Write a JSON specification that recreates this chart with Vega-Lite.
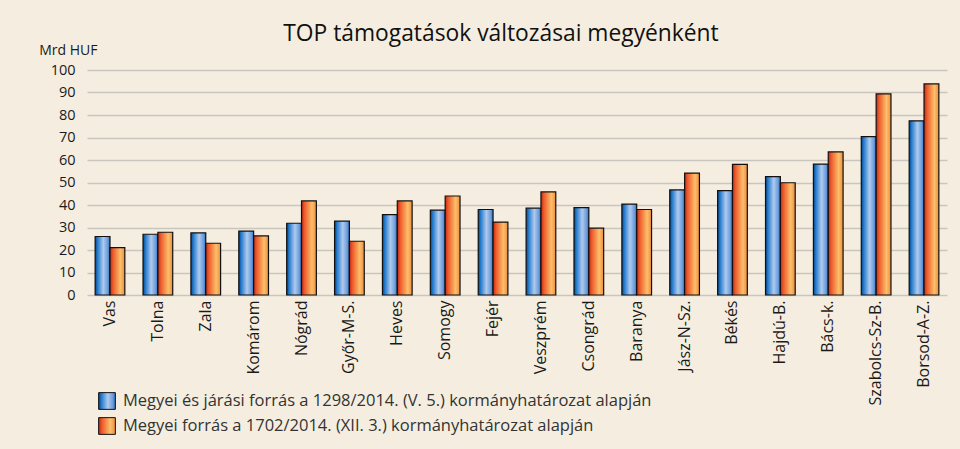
{
  "$schema": "https://vega.github.io/schema/vega-lite/v6.json",
  "width": 860,
  "height": 225,
  "autosize": {"type": "none"},
  "padding": {"left": 87, "top": 70, "right": 13, "bottom": 154},
  "background": "#f5eee0",
  "title": {
    "text": "TOP támogatások változásai megyénként",
    "fontSize": 22.8,
    "fontWeight": "normal",
    "font": "Open Sans",
    "color": "#111111",
    "anchor": "middle",
    "dx": -16,
    "offset": -3
  },
  "data": {
    "values": [
      {"megye": "Vas", "series": "A", "value": 26.0},
      {"megye": "Vas", "series": "B", "value": 21.1},
      {"megye": "Tolna", "series": "A", "value": 27.0},
      {"megye": "Tolna", "series": "B", "value": 27.9},
      {"megye": "Zala", "series": "A", "value": 27.6},
      {"megye": "Zala", "series": "B", "value": 23.0},
      {"megye": "Komárom", "series": "A", "value": 28.4},
      {"megye": "Komárom", "series": "B", "value": 26.3},
      {"megye": "Nógrád", "series": "A", "value": 31.9},
      {"megye": "Nógrád", "series": "B", "value": 41.8},
      {"megye": "Győr-M-S.", "series": "A", "value": 32.8},
      {"megye": "Győr-M-S.", "series": "B", "value": 23.9},
      {"megye": "Heves", "series": "A", "value": 35.7},
      {"megye": "Heves", "series": "B", "value": 41.8},
      {"megye": "Somogy", "series": "A", "value": 37.7},
      {"megye": "Somogy", "series": "B", "value": 44.0},
      {"megye": "Fejér", "series": "A", "value": 38.0},
      {"megye": "Fejér", "series": "B", "value": 32.4},
      {"megye": "Veszprém", "series": "A", "value": 38.6},
      {"megye": "Veszprém", "series": "B", "value": 45.8},
      {"megye": "Csongrád", "series": "A", "value": 38.8},
      {"megye": "Csongrád", "series": "B", "value": 29.7},
      {"megye": "Baranya", "series": "A", "value": 40.4},
      {"megye": "Baranya", "series": "B", "value": 38.0},
      {"megye": "Jász-N-Sz.", "series": "A", "value": 46.7},
      {"megye": "Jász-N-Sz.", "series": "B", "value": 54.2},
      {"megye": "Békés", "series": "A", "value": 46.4},
      {"megye": "Békés", "series": "B", "value": 58.1},
      {"megye": "Hajdú-B.", "series": "A", "value": 52.6},
      {"megye": "Hajdú-B.", "series": "B", "value": 49.9},
      {"megye": "Bács-k.", "series": "A", "value": 58.2},
      {"megye": "Bács-k.", "series": "B", "value": 63.6},
      {"megye": "Szabolcs-Sz-B.", "series": "A", "value": 70.4},
      {"megye": "Szabolcs-Sz-B.", "series": "B", "value": 89.4},
      {"megye": "Borsod-A-Z.", "series": "A", "value": 77.4},
      {"megye": "Borsod-A-Z.", "series": "B", "value": 93.8}
    ]
  },
  "mark": {
    "type": "bar",
    "strokeWidth": 1.2,
    "fill": {"expr": "(datum.series === 'A' || datum.value === 'A') ? {gradient: 'linear', x1: 0, y1: 0, x2: 1, y2: 0, stops: [{offset: 0, color: '#084485'}, {offset: 0.15, color: '#1f78cc'}, {offset: 0.55, color: '#b0caee'}, {offset: 0.85, color: '#6a9cdc'}, {offset: 1, color: '#2a6fc0'}]} : {gradient: 'linear', x1: 0, y1: 0, x2: 1, y2: 0, stops: [{offset: 0, color: '#c02a14'}, {offset: 0.2, color: '#ee5a2c'}, {offset: 0.7, color: '#fcbf6a'}, {offset: 1, color: '#ef8c3e'}]}"}
  },
  "encoding": {
    "x": {
      "field": "megye",
      "type": "nominal",
      "sort": null,
      "scale": {"paddingInner": 0.38, "paddingOuter": 0.17},
      "axis": {
        "title": null,
        "labelAngle": -90,
        "labelFontSize": 16,
        "labelColor": "#1a1a1a",
        "labelPadding": 5,
        "domain": false,
        "ticks": false
      }
    },
    "xOffset": {
      "field": "series",
      "type": "nominal",
      "scale": {"domain": ["A", "B"]}
    },
    "y": {
      "field": "value",
      "type": "quantitative",
      "scale": {"domain": [0, 100], "nice": false},
      "axis": {
        "title": "Mrd HUF",
        "titleAngle": 0,
        "titleAlign": "right",
        "titleBaseline": "alphabetic",
        "titleX": 10,
        "titleY": -16,
        "titleFontSize": 14,
        "titleFontWeight": "normal",
        "titleColor": "#1a1a1a",
        "values": [0, 10, 20, 30, 40, 50, 60, 70, 80, 90, 100],
        "labelFontSize": 14.5,
        "labelColor": "#1a1a1a",
        "labelPadding": 12,
        "domain": false,
        "ticks": false,
        "grid": true,
        "gridColor": "#c9c6c0",
        "gridWidth": 1.5
      }
    },
    "stroke": {
      "field": "series",
      "type": "nominal",
      "scale": {"domain": ["A", "B"], "range": ["#111111", "#111111"]},
      "legend": {
        "title": null,
        "orient": "none",
        "legendX": 11,
        "legendY": 322,
        "direction": "vertical",
        "symbolType": "square",
        "symbolSize": 280,
        "symbolStrokeWidth": 1,
        "labelFontSize": 16.5,
        "labelColor": "#333333",
        "labelOffset": 7,
        "rowPadding": 3,
        "labelLimit": 700,
        "labelExpr": "datum.value == 'A' ? 'Megyei és járási forrás a 1298/2014. (V. 5.) kormányhatározat alapján' : 'Megyei forrás a 1702/2014. (XII. 3.) kormányhatározat alapján'",
        "encode": {
          "symbols": {
            "update": {
              "opacity": {"value": 1}
            }
          }
        }
      }
    }
  },
  "config": {
    "font": "Open Sans",
    "view": {"stroke": null}
  }
}
